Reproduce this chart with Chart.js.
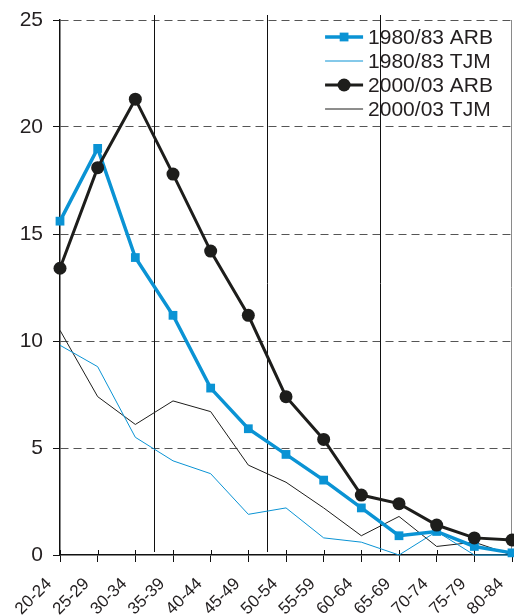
<!DOCTYPE html>
<html>
<head>
<meta charset="utf-8">
<script src="https://cdn.jsdelivr.net/npm/chart.js@4.4.0/dist/chart.umd.min.js"></script>
<style>
  html, body { margin: 0; padding: 0; background: #ffffff; }
  canvas { display: block; }
</style>
</head>
<body>
<canvas id="chart" width="514" height="616"></canvas>
<script>
// Age groups on the horizontal axis
const ageGroups = ['20-24', '25-29', '30-34', '35-39', '40-44', '45-49', '50-54',
                   '55-59', '60-64', '65-69', '70-74', '75-79', '80-84'];

// Series values (%)
const arb1980 = [15.6, 19.0, 13.9, 11.2, 7.8, 5.9, 4.7, 3.5, 2.2, 0.9, 1.1, 0.4, 0.1];
const tjm1980 = [9.8, 8.8, 5.5, 4.4, 3.8, 1.9, 2.2, 0.8, 0.6, 0.0, 1.1, 0.0, 0.0];
const arb2000 = [13.4, 18.1, 21.3, 17.8, 14.2, 11.2, 7.4, 5.4, 2.8, 2.4, 1.4, 0.8, 0.7];
const tjm2000 = [10.5, 7.4, 6.1, 7.2, 6.7, 4.2, 3.4, 2.2, 0.9, 1.8, 0.4, 0.6, 0.0];

const seriesLabels = ['1980/83 ARB', '1980/83 TJM', '2000/03 ARB', '2000/03 TJM'];

// Value axis ticks
const yTicks = [0, 5, 10, 15, 20, 25];

// Vertical separators are drawn after these age groups
const breakAfter = ['30-34', '45-49', '60-64'];

const BLUE = '#0a93d4';
const BLACK = '#1d1d1b';
const FONT = "'Liberation Sans', Arial, sans-serif";

const toPoints = arr => arr.map((v, i) => ({ x: i, y: v }));

// Period separators and right frame line
const framePlugin = {
  id: 'frame',
  beforeDatasetsDraw(chart) {
    const { ctx, chartArea, scales } = chart;
    const xs = scales.x;
    ctx.save();
    ctx.strokeStyle = '#111';
    ctx.lineWidth = 1;
    breakAfter.forEach(g => {
      const px = Math.round(xs.getPixelForValue(ageGroups.indexOf(g) + 0.5)) + 0.5;
      ctx.beginPath();
      ctx.moveTo(px, chartArea.top - 5);
      ctx.lineTo(px, chartArea.bottom - 3);
      ctx.stroke();
    });
    ctx.strokeStyle = '#8a8a8a';
    const rx = Math.round(xs.getPixelForValue(ageGroups.length - 1)) - 0.5;
    ctx.beginPath();
    ctx.moveTo(rx, chartArea.top);
    ctx.lineTo(rx, chartArea.bottom);
    ctx.stroke();
    // small tick marks above the category axis
    ctx.strokeStyle = '#111';
    ageGroups.forEach((g, i) => {
      const px = Math.round(xs.getPixelForValue(i)) + 0.5;
      ctx.beginPath();
      ctx.moveTo(px, chartArea.bottom - 5);
      ctx.lineTo(px, chartArea.bottom);
      ctx.stroke();
    });
    ctx.restore();
  }
};

// Legend drawn inside the plot, top right
const insideLegend = {
  id: 'insideLegend',
  afterDatasetsDraw(chart) {
    const { ctx, chartArea } = chart;
    ctx.save();
    ctx.font = '21px ' + FONT;
    ctx.textBaseline = 'middle';
    ctx.textAlign = 'left';
    const textW = Math.max(...seriesLabels.map(l => ctx.measureText(l).width));
    const textX = chartArea.right - 19 - textW;
    const lineEnd = textX - 5;
    const lineStart = lineEnd - 38;
    const mid = (lineStart + lineEnd) / 2;
    seriesLabels.forEach((label, row) => {
      const ds = chart.data.datasets.find(d => d.label === label);
      const y = chartArea.top + 17 + row * 24;
      ctx.strokeStyle = ds.borderColor;
      ctx.lineWidth = ds.borderWidth;
      ctx.beginPath();
      ctx.moveTo(lineStart, y);
      ctx.lineTo(lineEnd, y);
      ctx.stroke();
      if (ds.pointRadius > 0) {
        ctx.fillStyle = ds.pointBackgroundColor;
        if (ds.pointStyle === 'rect') {
          const s = ds.pointRadius * Math.SQRT1_2;
          ctx.fillRect(mid - s, y - s, 2 * s, 2 * s);
        } else {
          ctx.beginPath();
          ctx.arc(mid, y, ds.pointRadius, 0, Math.PI * 2);
          ctx.fill();
        }
      }
      ctx.fillStyle = '#231f20';
      ctx.fillText(label, textX, y + 1);
    });
    ctx.restore();
  }
};

new Chart(document.getElementById('chart'), {
  type: 'line',
  data: {
    datasets: [
      {
        label: seriesLabels[2], data: toPoints(arb2000),
        borderColor: BLACK, backgroundColor: BLACK, borderWidth: 3,
        pointStyle: 'circle', pointRadius: 6.5, pointBackgroundColor: BLACK,
        pointBorderWidth: 0, order: 0
      },
      {
        label: seriesLabels[0], data: toPoints(arb1980),
        borderColor: BLUE, backgroundColor: BLUE, borderWidth: 3.5,
        pointStyle: 'rect', pointRadius: 6.2, pointBackgroundColor: BLUE,
        pointBorderWidth: 0, order: 1
      },
      {
        label: seriesLabels[1], data: toPoints(tjm1980),
        borderColor: BLUE, backgroundColor: BLUE, borderWidth: 1,
        pointRadius: 0, order: 2
      },
      {
        label: seriesLabels[3], data: toPoints(tjm2000),
        borderColor: BLACK, backgroundColor: BLACK, borderWidth: 1,
        pointRadius: 0, order: 3
      }
    ]
  },
  options: {
    responsive: false,
    animation: false,
    devicePixelRatio: 1,
    layout: { autoPadding: false, padding: { top: 20, right: 2, left: 0, bottom: 0 } },
    elements: { line: { tension: 0 } },
    clip: false,
    plugins: {
      legend: { display: false },
      tooltip: { enabled: false }
    },
    scales: {
      x: {
        type: 'linear',
        min: 0,
        max: ageGroups.length - 1,
        afterBuildTicks(scale) {
          scale.ticks = ageGroups.map((g, i) => ({ value: i }));
        },
        afterFit(scale) {
          scale.height = 61;
          scale.paddingLeft = 0;
          scale.paddingRight = 0;
        },
        border: { display: true, color: '#111', width: 1.5 },
        grid: {
          display: true, drawOnChartArea: false, drawTicks: true,
          tickLength: 7, color: '#111', lineWidth: 1
        },
        ticks: {
          autoSkip: false,
          minRotation: 45, maxRotation: 45,
          padding: 12,
          labelOffset: -11,
          color: '#231f20',
          font: { family: FONT, size: 17 },
          callback: v => ageGroups[v]
        }
      },
      y: {
        type: 'linear',
        min: 0,
        max: 25,
        afterBuildTicks(scale) {
          scale.ticks = yTicks.map(v => ({ value: v }));
        },
        afterFit(scale) {
          scale.width = 60;
          scale.paddingTop = 0;
          scale.paddingBottom = 0;
        },
        border: { display: true, color: '#111', width: 1.5, dash: [8, 5] },
        grid: {
          color: ctx => (ctx.tick && ctx.tick.value === 0) ? 'rgba(0,0,0,0)' : '#555',
          tickColor: '#111',
          lineWidth: 1,
          tickBorderDash: [],
          tickLength: 7
        },
        ticks: {
          padding: 10,
          color: '#231f20',
          font: { family: FONT, size: 21 },
          callback: v => String(v)
        }
      }
    }
  },
  plugins: [framePlugin, insideLegend]
});
</script>
</body>
</html>
